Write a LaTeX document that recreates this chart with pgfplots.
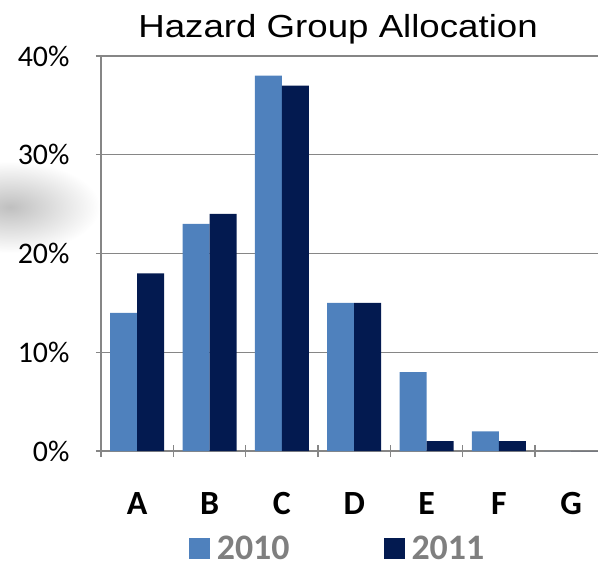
\documentclass[border=0pt]{standalone}
\usepackage{pgfplots}
\pgfplotsset{compat=1.18}
\usepackage{fontspec}
\setmainfont{Carlito}
\newfontfamily\titlefont[FakeStretch=1.15]{Liberation Sans}
\definecolor{c2010}{HTML}{4F81BD}
\definecolor{c2011}{HTML}{031A50}
\definecolor{axgray}{HTML}{868686}
\definecolor{leggray}{HTML}{7F7F7F}
\begin{document}
\begin{tikzpicture}
\useasboundingbox (-101bp,-116bp) rectangle (497bp,451bp);
\shade[inner color=black!25, outer color=white] (-91bp,244bp) ellipse (90bp and 46bp);
\begin{axis}[
  scale only axis,
  width=497bp, height=395bp,
  ybar=0pt, bar width=27bp,
  xmin=-0.5, xmax=6.37,
  ymin=0, ymax=40,
  ytick={0,10,20,30,40},
  yticklabel={\pgfmathprintnumber{\tick}\%},
  /pgf/number format/assume math mode=true,
  xtick={0,1,2,3,4,5,6},
  xticklabels={A,B,C,D,E,F,G},
  minor xtick={-0.5,0.5,1.5,2.5,3.5,4.5,5.5},
  major x tick style={draw=none},
  minor x tick style={draw=axgray, line width=1.5bp},
  major y tick style={draw=axgray, line width=1.5bp},
  tick align=outside,
  minor tick length=12bp,
  major tick length=10bp,
  axis x line=bottom, axis y line=left,
  axis line style={-, draw=axgray, line width=1.5bp},
  ymajorgrids,
  grid style={draw=axgray, line width=1.5bp},
  yticklabel style={font=\fontsize{30}{34}\selectfont, text=black, xshift=-23bp},
  xticklabel style={font=\fontsize{34}{38}\selectfont\bfseries, text=black, anchor=base, yshift=-58bp},
  title={Hazard Group Allocation},
  title style={font=\titlefont\fontsize{32}{38}\selectfont, at={(rel axis cs:0.477,1)}, anchor=base, yshift=13bp},
  legend style={draw=none, at={(rel axis cs:0.476,-0.245)}, anchor=center,
    font=\fontsize{36}{40}\selectfont\bfseries, text=leggray,
    nodes={text depth=0pt},
    legend columns=2,
    /tikz/every odd column/.append style={column sep=5bp},
    /tikz/every even column/.append style={column sep=92bp}},
  legend image code/.code={\fill[#1] (0bp,-11bp) rectangle (21bp,10bp);},
]
\addplot[fill=c2010, draw=none] coordinates {(0,14) (1,23) (2,38) (3,15) (4,8) (5,2) (6,0)};
\addplot[fill=c2011, draw=none] coordinates {(0,18) (1,24) (2,37) (3,15) (4,1) (5,1) (6,0)};
\legend{2010,2011}
\end{axis}
\end{tikzpicture}
\end{document}
